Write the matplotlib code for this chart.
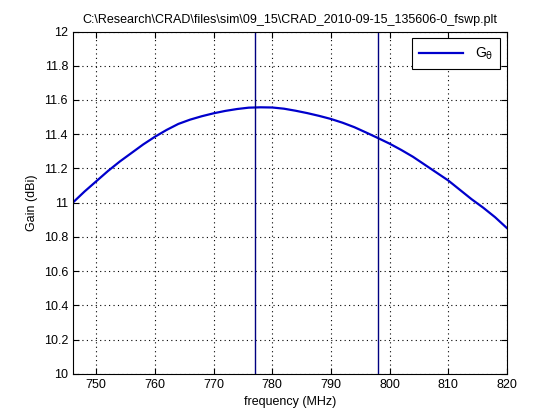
import matplotlib
matplotlib.use("Agg")
import matplotlib.pyplot as plt

freq = [746, 748, 750, 752, 754, 756, 758, 760, 762, 764, 766, 768, 770, 772, 774,
        776, 778, 780, 782, 784, 786, 788, 790, 792, 794, 796, 798, 800, 802, 804,
        806, 808, 810, 812, 814, 816, 818, 820]
gain = [11.00, 11.065, 11.125, 11.185, 11.24, 11.29, 11.34, 11.385, 11.425, 11.46,
        11.485, 11.505, 11.522, 11.536, 11.547, 11.555, 11.557, 11.556, 11.549,
        11.537, 11.523, 11.507, 11.489, 11.467, 11.441, 11.41, 11.378, 11.345,
        11.308, 11.268, 11.222, 11.176, 11.13, 11.075, 11.02, 10.97, 10.915, 10.852]
markers_x = [777, 798]
xticks = [750, 760, 770, 780, 790, 800, 810, 820]
yticks = [10, 10.2, 10.4, 10.6, 10.8, 11, 11.2, 11.4, 11.6, 11.8, 12]
title = r"C:\Research\CRAD\files\sim\09_15\CRAD_2010-09-15_135606-0_fswp.plt"

plt.rcParams['font.family'] = ['Liberation Sans', 'DejaVu Sans']
plt.rcParams['font.size'] = 9
plt.rcParams['mathtext.fontset'] = 'custom'
plt.rcParams['mathtext.rm'] = 'DejaVu Sans'
plt.rcParams['mathtext.it'] = 'DejaVu Sans'

fig = plt.figure(figsize=(5.6, 4.2), dpi=100)
ax = fig.add_axes([0.13, 0.11, 0.775, 0.815])

ax.plot(freq, gain, color='#0000cc', lw=1.6, label=r'G$_\mathrm{\theta}$')
for mx in markers_x:
    ax.axvline(mx, color='#000080', lw=1.0)

ax.set_xlim(746, 820)
ax.set_ylim(10, 12)
ax.set_xticks(xticks)
ax.set_yticks(yticks)
ax.set_yticklabels([f"{v:g}" for v in yticks])
ax.grid(True, color='black', linestyle=(0, (1, 3)), lw=0.8)
ax.tick_params(direction='in', top=True, right=True, length=4, width=0.8)
for s in ax.spines.values():
    s.set_linewidth(0.8)

ax.set_xlabel('frequency (MHz)')
ax.set_ylabel('Gain (dBi)')
ax.set_title(title, fontsize=9)

leg = ax.legend(loc='upper right', fancybox=False, framealpha=1,
                edgecolor='black', handlelength=3.2, borderaxespad=0.5,
                fontsize=10, borderpad=0.5)
leg.get_frame().set_linewidth(0.8)

fig.savefig('out.png', dpi=100)
